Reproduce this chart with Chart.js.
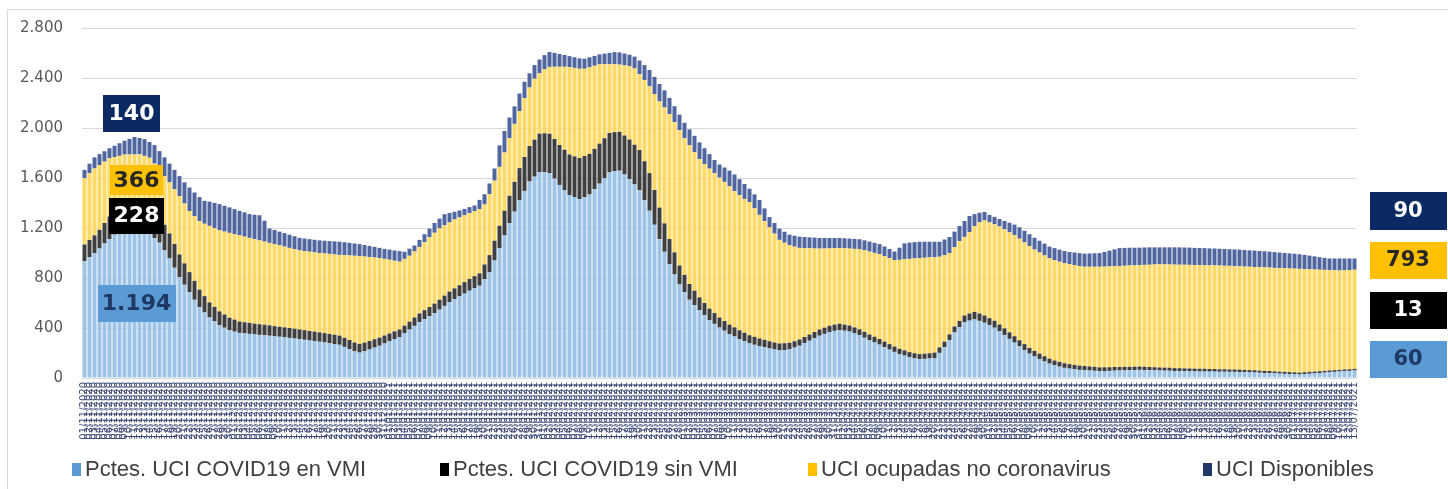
<!DOCTYPE html>
<html lang="es">
<head>
<meta charset="utf-8">
<title>Ocupación UCI</title>
<script src="https://cdn.jsdelivr.net/npm/chart.js@4.4.1/dist/chart.umd.min.js"></script>
<style>
    html, body { margin: 0; padding: 0; background: #fff; }
    #contenedor { position: relative; width: 1448px; height: 489px; }
</style>
</head>
<body>
<div id="contenedor"><canvas id="grafico" width="1448" height="489"></canvas></div>
<script>
// Pacientes UCI COVID19 en VMI
var vmi = [
    935, 966, 997, 1036, 1076, 1112, 1147, 1170, 1192, 1194,
    1194, 1194, 1174, 1152, 1118, 1083, 1021, 956, 882, 807,
    746, 686, 626, 566, 524, 484, 453, 423, 402, 382,
    371, 361, 357, 353, 349, 345, 342, 338, 334, 330,
    326, 321, 316, 311, 306, 300, 295, 290, 284, 278,
    272, 266, 249, 232, 213, 203, 214, 228, 243, 258,
    276, 293, 311, 328, 357, 387, 417, 447, 471, 494,
    518, 547, 577, 607, 630, 653, 675, 698, 718, 738,
    790, 845, 940, 1040, 1140, 1240, 1331, 1421, 1497, 1572,
    1611, 1646, 1646, 1640, 1595, 1545, 1504, 1464, 1446, 1431,
    1448, 1468, 1510, 1555, 1600, 1645, 1654, 1659, 1628, 1593,
    1549, 1504, 1423, 1338, 1226, 1111, 1010, 910, 828, 748,
    686, 626, 584, 544, 504, 464, 433, 403, 378, 352,
    332, 312, 294, 277, 266, 256, 246, 236, 228, 221,
    224, 229, 243, 258, 278, 298, 318, 338, 353, 368,
    377, 384, 378, 371, 357, 342, 322, 302, 284, 267,
    247, 227, 209, 192, 179, 166, 157, 151, 153, 156,
    160, 201, 246, 304, 364, 406, 446, 459, 469, 457,
    442, 422, 402, 373, 343, 313, 283, 253, 223, 195,
    172, 152, 132, 115, 101, 91, 81, 75, 70, 65,
    63, 60, 58, 55, 56, 57, 59, 60, 61, 62,
    64, 65, 64, 63, 61, 60, 59, 58, 56, 55,
    54, 54, 53, 52, 52, 51, 51, 50, 50, 49,
    49, 48, 47, 45, 44, 42, 40, 39, 37, 35,
    33, 32, 30, 28, 31, 34, 37, 40, 43, 46,
    49, 52, 55, 57, 60
];
// Pacientes UCI COVID19 sin VMI
var sinVmi = [
    133, 138, 144, 149, 164, 180, 195, 211, 226, 227,
    228, 223, 222, 220, 215, 210, 205, 200, 191, 181,
    171, 161, 151, 141, 131, 121, 116, 110, 106, 100,
    96, 91, 89, 88, 86, 85, 84, 83, 81, 80,
    79, 79, 78, 78, 77, 76, 76, 75, 75, 74,
    74, 73, 72, 72, 71, 70, 69, 68, 67, 65,
    64, 63, 62, 60, 62, 64, 67, 69, 72, 74,
    77, 79, 82, 84, 87, 89, 92, 94, 97, 99,
    118, 138, 158, 178, 198, 218, 238, 258, 271, 284,
    296, 309, 312, 314, 317, 319, 322, 324, 327, 329,
    328, 325, 323, 320, 318, 315, 313, 310, 312, 315,
    317, 320, 311, 301, 278, 252, 227, 202, 177, 152,
    139, 126, 114, 101, 96, 91, 86, 81, 78, 75,
    73, 70, 68, 65, 63, 60, 59, 58, 56, 55,
    54, 53, 51, 50, 50, 50, 50, 50, 50, 50,
    50, 50, 49, 49, 48, 48, 47, 46, 46, 45,
    44, 44, 43, 42, 42, 41, 41, 40, 41, 42,
    43, 44, 45, 45, 48, 51, 54, 57, 60, 59,
    58, 57, 56, 55, 54, 52, 51, 49, 48, 46,
    45, 43, 42, 40, 39, 38, 37, 36, 35, 34,
    33, 32, 31, 30, 30, 29, 29, 28, 28, 27,
    27, 26, 26, 25, 25, 24, 24, 24, 23, 23,
    23, 22, 22, 22, 22, 21, 21, 20, 20, 19,
    19, 19, 18, 18, 18, 17, 17, 17, 16, 16,
    16, 15, 15, 15, 15, 15, 14, 14, 14, 14,
    14, 13, 13, 13, 13
];
// UCI ocupadas no coronavirus
var noCovid = [
    531, 534, 535, 519, 491, 465, 426, 396, 369, 367,
    366, 373, 381, 390, 382, 372, 389, 409, 437, 468,
    479, 489, 517, 547, 579, 612, 630, 649, 663, 679,
    684, 689, 685, 680, 676, 671, 665, 660, 656, 651,
    646, 641, 637, 632, 632, 634, 634, 635, 638, 641,
    643, 646, 662, 676, 694, 702, 689, 672, 654, 637,
    613, 590, 565, 543, 534, 527, 528, 531, 543, 558,
    567, 571, 562, 553, 551, 543, 535, 526, 520, 514,
    480, 488, 481, 471, 466, 461, 464, 455, 472, 468,
    487, 483, 511, 535, 578, 626, 664, 699, 708, 714,
    698, 693, 665, 634, 592, 550, 543, 538, 561, 586,
    610, 608, 650, 694, 768, 849, 927, 999, 1042, 1083,
    1093, 1110, 1108, 1106, 1112, 1120, 1119, 1119, 1113, 1107,
    1090, 1082, 1071, 1066, 1029, 989, 950, 911, 871, 829,
    804, 780, 757, 733, 711, 690, 668, 647, 633, 619,
    612, 606, 611, 615, 628, 640, 652, 663, 671, 679,
    684, 687, 690, 711, 729, 746, 758, 769, 768, 767,
    764, 725, 692, 649, 633, 638, 629, 652, 686, 729,
    760, 766, 771, 784, 792, 800, 808, 812, 813, 814,
    810, 809, 806, 802, 802, 801, 801, 800, 798, 796,
    794, 798, 801, 805, 805, 807, 807, 808, 809, 811,
    810, 812, 815, 818, 822, 826, 826, 826, 828, 828,
    829, 829, 829, 829, 828, 829, 829, 830, 828, 829,
    827, 826, 826, 827, 826, 828, 828, 827, 828, 829,
    829, 829, 830, 830, 825, 821, 817, 812, 808, 803,
    798, 795, 794, 794, 793
];
// UCI disponibles
var disponibles = [
    66, 77, 89, 87, 83, 81, 90, 101, 111, 125,
    140, 130, 134, 126, 148, 150, 150, 150, 155, 159,
    169, 188, 190, 193, 183, 194, 202, 209, 207, 204,
    200, 196, 194, 190, 195, 201, 167, 115, 113, 110,
    108, 105, 103, 100, 101, 101, 101, 101, 101, 102,
    104, 105, 103, 101, 98, 96, 92, 88, 85, 81,
    80, 81, 82, 84, 57, 57, 48, 58, 64, 69,
    78, 78, 89, 76, 62, 55, 51, 49, 45, 74,
    82, 85, 97, 172, 172, 165, 140, 142, 130, 114,
    109, 110, 114, 119, 111, 102, 94, 88, 85, 83,
    80, 80, 79, 80, 85, 91, 97, 98, 95, 92,
    95, 108, 119, 131, 137, 140, 137, 130, 127, 124,
    124, 127, 131, 134, 126, 116, 106, 105, 115, 125,
    133, 126, 119, 106, 111, 119, 102, 82, 85, 90,
    88, 85, 87, 90, 89, 87, 87, 85, 84, 83,
    81, 80, 80, 80, 80, 80, 80, 80, 80, 80,
    77, 74, 70, 97, 127, 130, 131, 130, 128, 125,
    123, 120, 125, 130, 126, 121, 127, 128, 96, 77,
    68, 60, 60, 60, 67, 77, 85, 92, 94, 95,
    95, 94, 95, 94, 97, 97, 97, 97, 101, 104,
    105, 106, 108, 109, 118, 126, 134, 143, 143, 142,
    141, 140, 139, 139, 137, 135, 136, 137, 138, 139,
    138, 138, 137, 137, 137, 136, 135, 134, 134, 133,
    134, 134, 133, 131, 131, 129, 129, 128, 126, 124,
    122, 121, 119, 117, 114, 109, 105, 101, 96, 93,
    95, 96, 94, 92, 90
];
var ticksY = [0, 400, 800, 1200, 1600, 2000, 2400, 2800];
var nombresSeries = ['Pctes. UCI COVID19 en VMI', 'Pctes. UCI COVID19 sin VMI', 'UCI ocupadas no coronavirus', 'UCI Disponibles'];

// fechas diarias del eje X
var fechas = [];
for (var i = 0; i < vmi.length; i++) {
    var d = new Date(2020, 10, 1 + i);
    fechas.push(('0' + d.getDate()).slice(-2) + '/' + ('0' + (d.getMonth() + 1)).slice(-2) + '/' + d.getFullYear());
}
var iPico = 10; // día de las etiquetas de la izquierda

function formatear(v) {
    return String(v).replace(/\B(?=(\d{3})+(?!\d))/g, '.');
}

function caja(ctx, cx, cy, w, h, fondo, color, texto, tam) {
    ctx.fillStyle = fondo;
    ctx.fillRect(Math.round(cx - w / 2), Math.round(cy - h / 2), w, h);
    ctx.fillStyle = color;
    ctx.font = 'bold ' + tam + 'px "DejaVu Sans"';
    ctx.textAlign = 'center';
    ctx.textBaseline = 'middle';
    ctx.fillText(texto, cx, cy + 1);
}

var extras = {
    id: 'extras',
    beforeDraw: function (chart) {
        var ctx = chart.ctx;
        ctx.save();
        ctx.fillStyle = '#ffffff';
        ctx.fillRect(0, 0, chart.width, chart.height);
        ctx.strokeStyle = '#d9d9d9';
        ctx.lineWidth = 1;
        ctx.beginPath();
        ctx.moveTo(7.5, chart.height);
        ctx.lineTo(7.5, 9.5);
        ctx.lineTo(chart.width, 9.5);
        ctx.stroke();
        ctx.restore();
    },
    afterDraw: function (chart) {
        var ctx = chart.ctx;
        var xs = chart.scales.x, ys = chart.scales.y, area = chart.chartArea;
        ctx.save();

        // etiquetas del primer pico
        var x = xs.getPixelForValue(iPico);
        var a = vmi[iPico], b = sinVmi[iPico], c = noCovid[iPico], e = disponibles[iPico];
        caja(ctx, x - 3, ys.getPixelForValue(a + b + c + e + 190), 57, 37, '#0b2a63', '#ffffff', formatear(e), 22);
        caja(ctx, x + 2, ys.getPixelForValue(a + b + c / 2) + 3, 53, 30, '#ffc000', '#262626', formatear(c), 22);
        caja(ctx, x + 2, ys.getPixelForValue(a + b / 2) + 1, 55, 36, '#000000', '#ffffff', formatear(b), 22);
        caja(ctx, x + 2, ys.getPixelForValue(a / 2), 78, 37, '#5b9bd5', '#1f3864', formatear(a), 22);

        // etiquetas del último día
        var n = vmi.length - 1;
        var cx = area.right + 51;
        caja(ctx, cx, area.top + 183, 77, 38, '#0b2a63', '#ffffff', formatear(disponibles[n]), 21);
        caja(ctx, cx, area.top + 232, 77, 37, '#ffc000', '#262626', formatear(noCovid[n]), 21);
        caja(ctx, cx, area.top + 282, 77, 37, '#000000', '#ffffff', formatear(sinVmi[n]), 21);
        caja(ctx, cx, area.top + 331, 77, 37, '#5b9bd5', '#1f3864', formatear(vmi[n]), 21);

        // leyenda
        var posLeyenda = [72, 440, 808, 1203];
        ctx.font = '22px "Liberation Sans"';
        ctx.textAlign = 'left';
        ctx.textBaseline = 'middle';
        chart.data.datasets.forEach(function (ds, k) {
            ctx.fillStyle = ds.colorLeyenda;
            ctx.fillRect(posLeyenda[k], 463, 9, 13);
            ctx.fillStyle = '#404040';
            ctx.fillText(ds.label, posLeyenda[k] + 13, 470);
        });
        ctx.restore();
    }
};

var ctx = document.getElementById('grafico').getContext('2d');
var grafico = new Chart(ctx, {
    type: 'bar',
    data: {
        labels: fechas,
        datasets: [
            { label: nombresSeries[0], data: vmi, backgroundColor: '#9dc3e6', colorLeyenda: '#5b9bd5' },
            { label: nombresSeries[1], data: sinVmi, backgroundColor: '#3f3f3f', colorLeyenda: '#000000' },
            { label: nombresSeries[2], data: noCovid, backgroundColor: '#ffd966', colorLeyenda: '#ffc000' },
            { label: nombresSeries[3], data: disponibles, backgroundColor: '#51669f', colorLeyenda: '#1f3864' }
        ]
    },
    options: {
        responsive: false,
        animation: false,
        devicePixelRatio: 1,
        datasets: { bar: { barPercentage: 0.8, categoryPercentage: 1.0, borderWidth: 0 } },
        layout: { padding: { left: 0, right: 91, top: 24, bottom: 41 } },
        plugins: { legend: { display: false }, tooltip: { enabled: false } },
        scales: {
            x: {
                stacked: true,
                grid: { display: false, drawTicks: false },
                border: { display: false },
                ticks: {
                    autoSkip: false, maxRotation: 90, minRotation: 90, padding: 4,
                    color: '#3e4c78', font: { family: 'DejaVu Sans', size: 10 }
                },
                afterFit: function (s) { s.height = 70; }
            },
            y: {
                stacked: true,
                min: ticksY[0],
                max: ticksY[ticksY.length - 1],
                afterBuildTicks: function (s) { s.ticks = ticksY.map(function (v) { return { value: v }; }); },
                ticks: {
                    padding: 19, color: '#595959', font: { family: 'DejaVu Sans', size: 15 },
                    callback: function (v) { return formatear(v); }
                },
                grid: { color: '#d9d9d9', drawTicks: false },
                border: { display: false },
                afterFit: function (s) { s.width = 82; }
            }
        }
    },
    plugins: [extras]
});
</script>
</body>
</html>
